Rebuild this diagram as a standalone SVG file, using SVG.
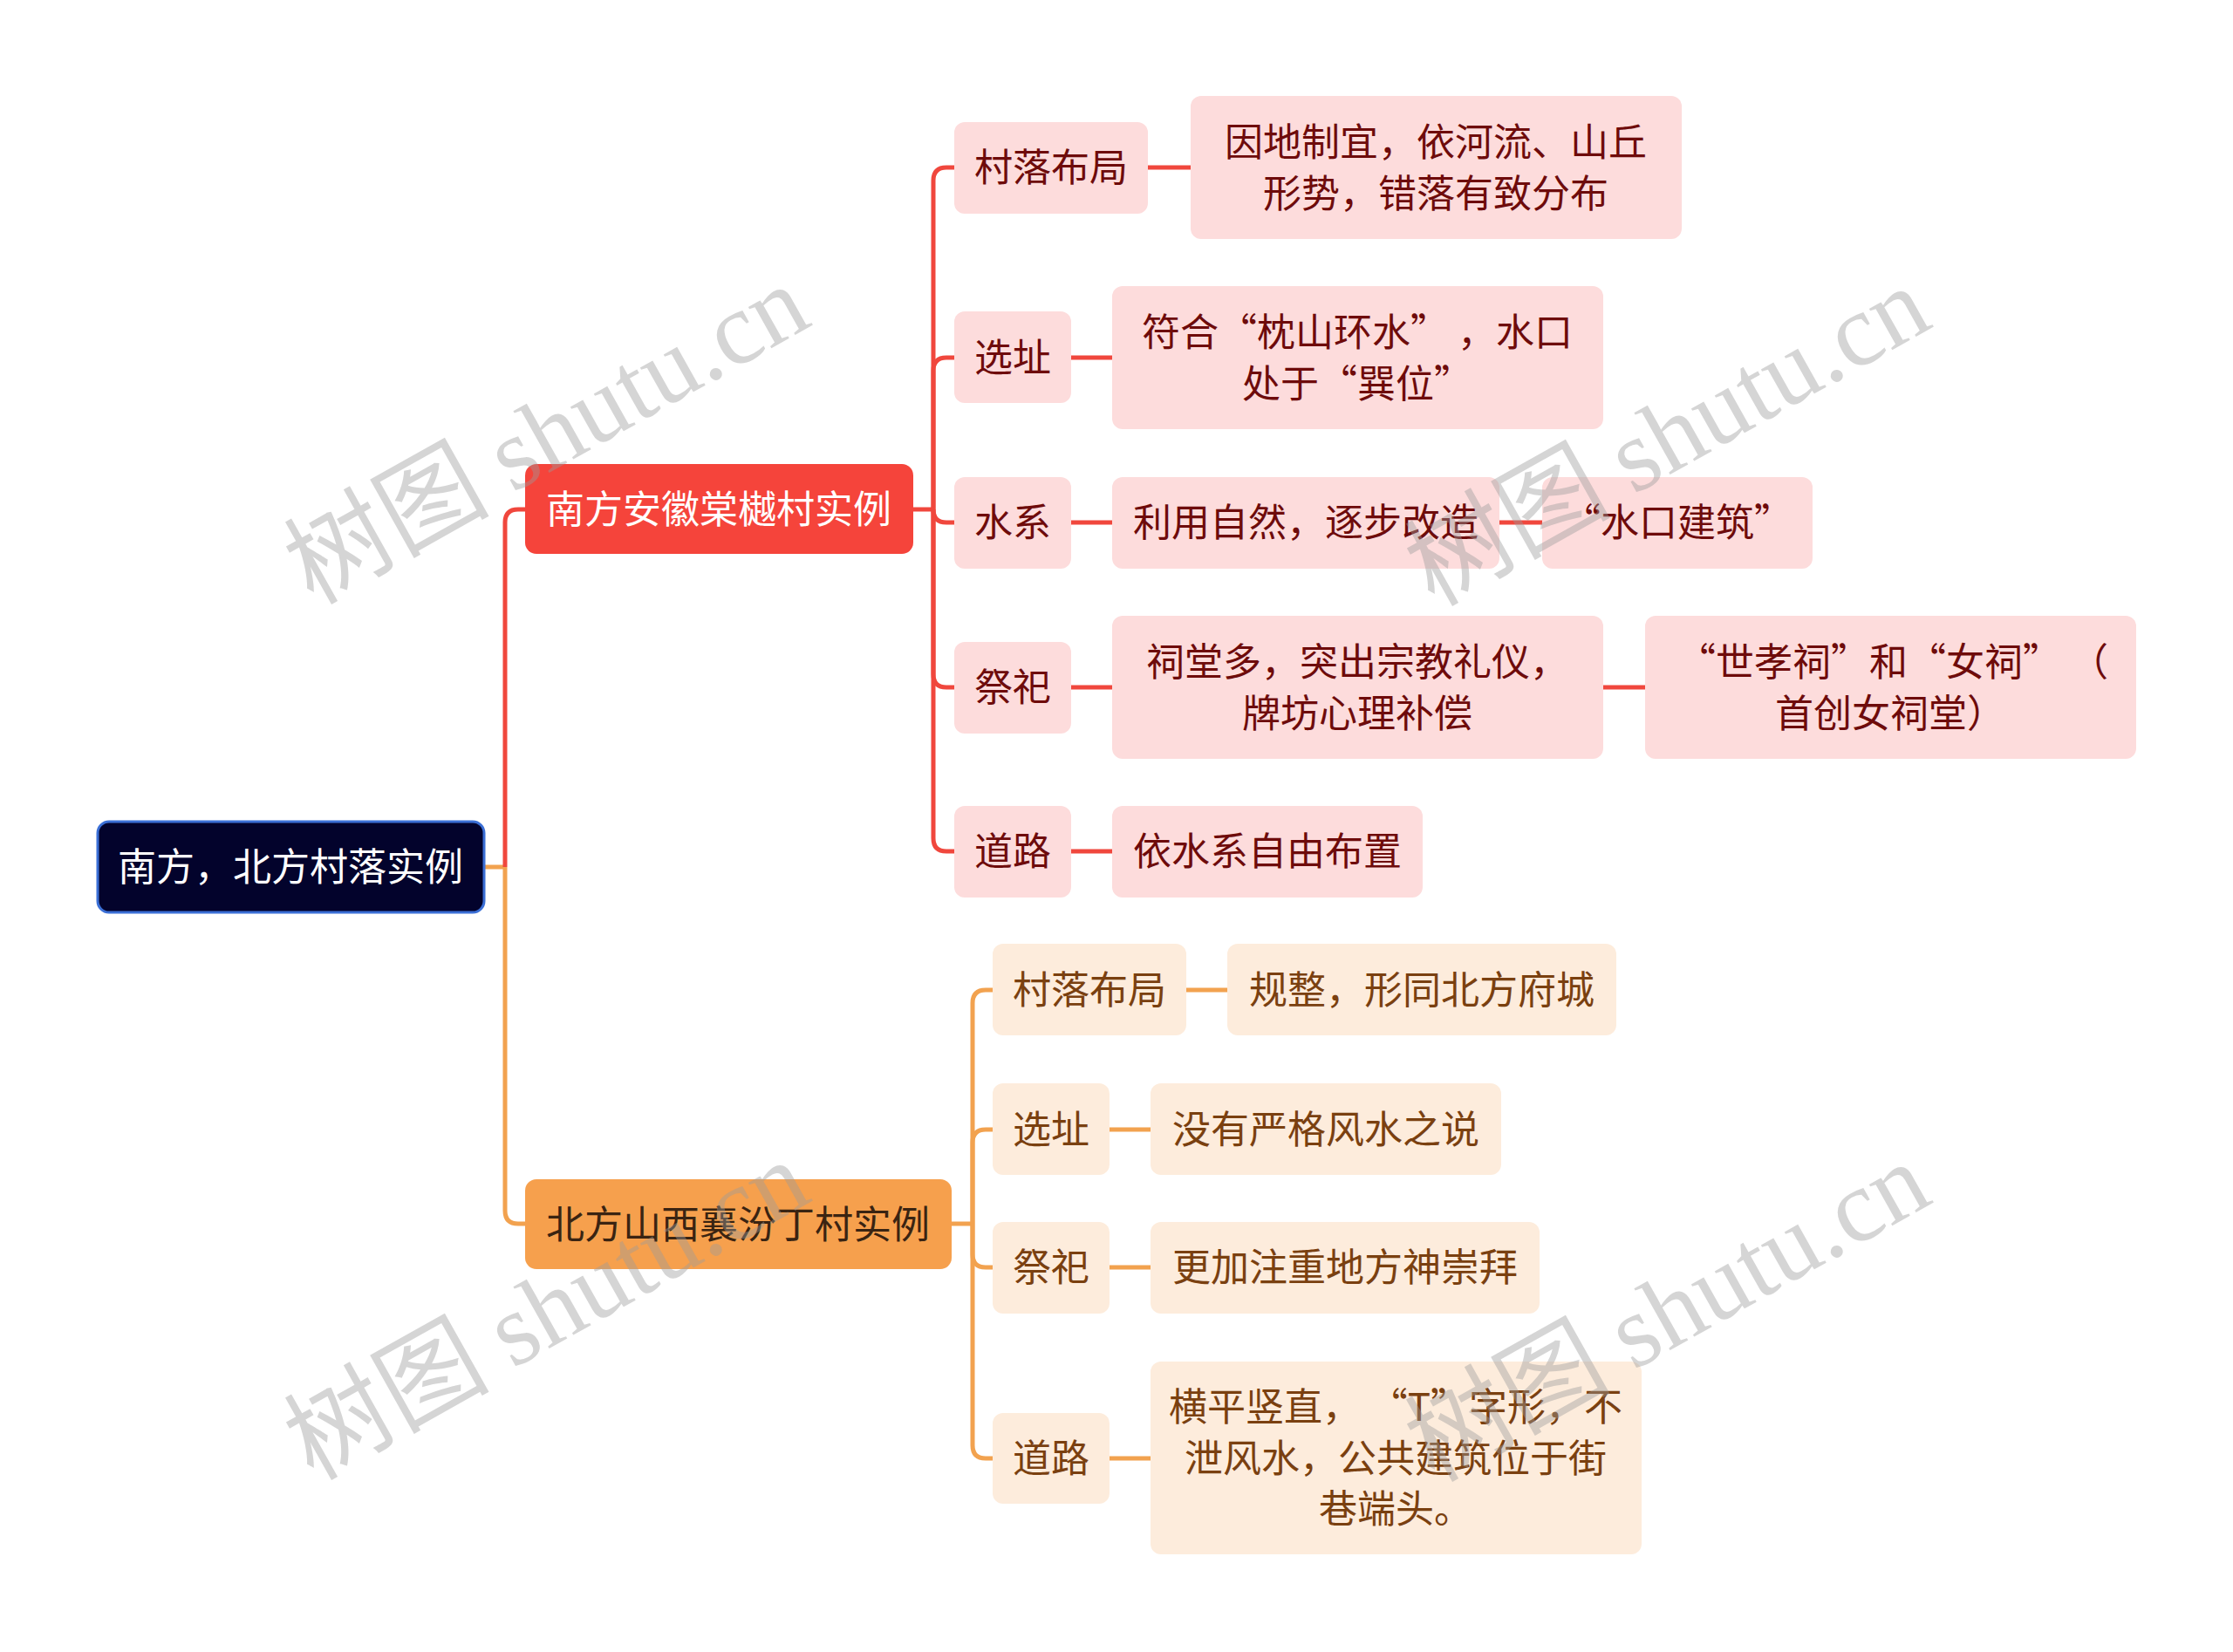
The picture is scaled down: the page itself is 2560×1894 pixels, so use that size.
<svg xmlns="http://www.w3.org/2000/svg" width="2560" height="1894" viewBox="0 0 2560 1894">
<style>
text{font-family:"Noto Sans CJK SC","Noto Sans",sans-serif;font-size:44px;text-anchor:middle}
.root rect{fill:#03032c;stroke:#3b6fd6;stroke-width:3}
.root text,.l1r text{fill:#ffffff}
.l1r rect{fill:#f5443b}
.l1o rect{fill:#f6a04d}
.l1o text{fill:#3a2412}
.r rect{fill:#fddcdc}
.r text{fill:#6e0b0b}
.o rect{fill:#fdecdc}
.o text{fill:#7a4010}
.cr{fill:none;stroke:#f0473d;stroke-width:5}
.co{fill:none;stroke:#f2a24f;stroke-width:5}
.wm text{fill:#9a9a9a;fill-opacity:0.42;font-size:118px;text-anchor:middle}
.wm .lat{font-family:"Liberation Serif",serif}
</style>
<g id="connectors">
  <path class="co" d="M555,994 H579"/>
  <path class="cr" d="M579,994 V599 Q579,584 594,584 H604"/>
  <path class="co" d="M579,994 V1388 Q579,1403 594,1403 H604"/>
  <path class="cr" d="M1047,584 H1070"/>
  <path class="cr" d="M1070,584 V207 Q1070,192 1085,192 H1096"/>
  <path class="cr" d="M1070,584 V425 Q1070,410 1085,410 H1096"/>
  <path class="cr" d="M1070,584 Q1070,599 1085,599 H1096"/>
  <path class="cr" d="M1070,584 V773 Q1070,788 1085,788 H1096"/>
  <path class="cr" d="M1070,584 V961 Q1070,976 1085,976 H1096"/>
  <path class="cr" d="M1316,192 H1367"/>
  <path class="cr" d="M1228,410 H1277"/>
  <path class="cr" d="M1228,599 H1277"/>
  <path class="cr" d="M1719,599 H1770"/>
  <path class="cr" d="M1228,788 H1277"/>
  <path class="cr" d="M1838,788 H1888"/>
  <path class="cr" d="M1228,976 H1277"/>
  <path class="co" d="M1091,1403 H1115"/>
  <path class="co" d="M1115,1403 V1150 Q1115,1135 1130,1135 H1140"/>
  <path class="co" d="M1115,1403 V1310 Q1115,1295 1130,1295 H1140"/>
  <path class="co" d="M1115,1403 V1438 Q1115,1453 1130,1453 H1140"/>
  <path class="co" d="M1115,1403 V1657 Q1115,1672 1130,1672 H1140"/>
  <path class="co" d="M1360,1135 H1409"/>
  <path class="co" d="M1272,1295 H1321"/>
  <path class="co" d="M1272,1453 H1321"/>
  <path class="co" d="M1272,1672 H1321"/>
</g>
<g id="root" class="root"><rect x="112" y="942" width="443" height="104" rx="13"/><text x="333" y="1010">南方，北方村落实例</text></g>
<g id="south" class="l1r"><rect x="602" y="532" width="445" height="103" rx="13"/><text x="824" y="600">南方安徽棠樾村实例</text></g>
<g id="north" class="l1o"><rect x="602" y="1352" width="489" height="103" rx="13"/><text x="846" y="1420">北方山西襄汾丁村实例</text></g>

<g id="s-layout" class="r"><rect x="1094" y="140" width="222" height="105" rx="12"/><text x="1205" y="208">村落布局</text></g>
<g id="s-layout-d" class="r"><rect x="1365" y="110" width="563" height="164" rx="12"/><text x="1646" y="179">因地制宜，依河流、山丘</text><text x="1646" y="238">形势，错落有致分布</text></g>
<g id="s-site" class="r"><rect x="1094" y="357" width="134" height="105" rx="12"/><text x="1161" y="426">选址</text></g>
<g id="s-site-d" class="r"><rect x="1275" y="328" width="563" height="164" rx="12"/><text x="1556" y="397">符合“枕山环水” ，水口</text><text x="1556" y="456">处于“巽位”</text></g>
<g id="s-water" class="r"><rect x="1094" y="547" width="134" height="105" rx="12"/><text x="1161" y="615">水系</text></g>
<g id="s-water-d" class="r"><rect x="1275" y="547" width="444" height="105" rx="12"/><text x="1497" y="615">利用自然，逐步改造</text></g>
<g id="s-water-d2" class="r"><rect x="1768" y="547" width="310" height="105" rx="12"/><text x="1923" y="615">“水口建筑”</text></g>
<g id="s-rite" class="r"><rect x="1094" y="736" width="134" height="105" rx="12"/><text x="1161" y="804">祭祀</text></g>
<g id="s-rite-d" class="r"><rect x="1275" y="706" width="563" height="164" rx="12"/><text x="1556" y="775">祠堂多，突出宗教礼仪，</text><text x="1556" y="834">牌坊心理补偿</text></g>
<g id="s-rite-d2" class="r"><rect x="1886" y="706" width="563" height="164" rx="12"/><text x="2170" y="775">“世孝祠”和“女祠” （</text><text x="2167" y="834">首创女祠堂）</text></g>
<g id="s-road" class="r"><rect x="1094" y="924" width="134" height="105" rx="12"/><text x="1161" y="992">道路</text></g>
<g id="s-road-d" class="r"><rect x="1275" y="924" width="356" height="105" rx="12"/><text x="1453" y="992">依水系自由布置</text></g>

<g id="n-layout" class="o"><rect x="1138" y="1082" width="222" height="105" rx="12"/><text x="1249" y="1151">村落布局</text></g>
<g id="n-layout-d" class="o"><rect x="1407" y="1082" width="446" height="105" rx="12"/><text x="1630" y="1151">规整，形同北方府城</text></g>
<g id="n-site" class="o"><rect x="1138" y="1242" width="134" height="105" rx="12"/><text x="1205" y="1311">选址</text></g>
<g id="n-site-d" class="o"><rect x="1319" y="1242" width="402" height="105" rx="12"/><text x="1520" y="1311">没有严格风水之说</text></g>
<g id="n-rite" class="o"><rect x="1138" y="1401" width="134" height="105" rx="12"/><text x="1205" y="1469">祭祀</text></g>
<g id="n-rite-d" class="o"><rect x="1319" y="1401" width="446" height="105" rx="12"/><text x="1542" y="1469">更加注重地方神崇拜</text></g>
<g id="n-road" class="o"><rect x="1138" y="1620" width="134" height="104" rx="12"/><text x="1205" y="1688">道路</text></g>
<g id="n-road-d" class="o"><rect x="1319" y="1561" width="563" height="221" rx="12"/><text x="1600" y="1629">横平竖直， “T”字形，不</text><text x="1600" y="1688">泄风水，公共建筑位于街</text><text x="1600" y="1746">巷端头。</text></g>

<g id="watermarks" class="wm">
  <text transform="translate(646,533) rotate(-29.3)">树图 <tspan class="lat">shutu.cn</tspan></text>
  <text transform="translate(1931,535) rotate(-29.3)">树图 <tspan class="lat">shutu.cn</tspan></text>
  <text transform="translate(646,1537) rotate(-29.3)">树图 <tspan class="lat">shutu.cn</tspan></text>
  <text transform="translate(1931,1539) rotate(-29.3)">树图 <tspan class="lat">shutu.cn</tspan></text>
</g>
</svg>
